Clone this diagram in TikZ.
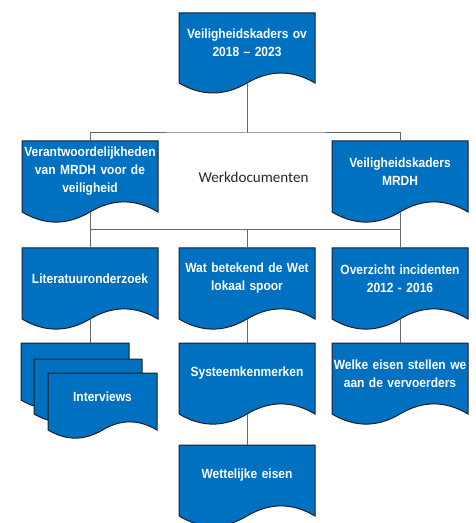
\documentclass[tikz,border=0pt]{standalone}
\usepackage{fontspec}
\newfontfamily\boxfont[FakeStretch=0.9,Ligatures=TeX]{Liberation Sans}
\newfontfamily\notefont{Carlito}
\usetikzlibrary{positioning}

\definecolor{docblue}{RGB}{0,112,192}
\definecolor{docedge}{RGB}{30,30,40}
\definecolor{connline}{RGB}{105,105,105}

\tikzset{
	docshape/.style={fill=docblue, draw=docedge, line width=0.75pt},
	docframe/.style={inner sep=0pt, outer sep=0pt},
	doctext/.style={text=white, align=center, inner sep=0pt, text width=118pt,
		font=\boxfont\bfseries\fontsize{10}{13.5}\selectfont},
	conn/.style={draw=connline, line width=0.75pt}
}

% document shape: name, left, top, width, height, text
\newcommand{\docbox}[6]{%
	\filldraw[docshape] (#2,#3) -- (#2+#4,#3) -- (#2+#4,#3+#5)
		.. controls (#2+#4*5/6,#3+#5*0.81) and (#2+#4*4/6,#3+#5*0.81) .. (#2+#4/2,#3+#5)
		.. controls (#2+#4*2/6,#3+#5*1.19) and (#2+#4/6,#3+#5*1.19) .. (#2,#3+#5) -- cycle;
	\node[docframe, minimum width=#4*0.75pt, minimum height=#5*0.75pt] (#1) at (#2+#4/2,#3+#5/2) {};
	\node[doctext] (#1-t) at ([yshift=-3.75pt]#1.center) {#6};
}

\begin{document}
\begin{tikzpicture}[x=0.75pt,y=0.75pt,yscale=-1,xscale=1]
	\useasboundingbox (0,0) rectangle (475,523);
	% top
	\docbox{kaders}{179}{13}{136}{70}{Veiligheidskaders ov\\2018 -- 2023}
	% second row
	\docbox{verant}{22}{141}{136}{71}{Verantwoordelijkheden\\van MRDH voor de\\veiligheid}
	\docbox{mrdh}{332}{141}{136}{71}{Veiligheidskaders\\MRDH}
	\node[inner sep=0pt, text=black!85, font=\notefont\fontsize{11.3}{13}\selectfont] (werk) at (253.5,177) {Werkdocumenten};
	% third row
	\docbox{lit}{22}{248}{136}{71}{Literatuuronderzoek}
	\docbox{wet}{179}{248}{136}{71}{Wat betekend de Wet\\lokaal spoor}
	\docbox{overz}{332}{248}{136}{71}{Overzicht incidenten\\2012 - 2016}
	% fourth row
	\docbox{int1}{21}{343}{108}{57}{}
	\docbox{int2}{34}{359}{108}{55}{}
	\docbox{int3}{48}{373}{109}{57}{Interviews}
	\docbox{sys}{179}{343}{136}{71}{Systeemkenmerken}
	\docbox{welke}{332}{343}{136}{71}{Welke eisen stellen we\\aan de vervoerders}
	% fifth row
	\docbox{wett}{179}{445}{136}{71}{Wettelijke eisen}

	% connectors
	\coordinate (bus1) at (kaders.south |- 0,133);
	\coordinate (bus2) at (kaders.south |- 0,230);
	\draw[conn] (kaders.south) -- (bus1);
	\draw[conn] (verant.north) |- (bus1) -| (mrdh.north);
	\draw[conn] (verant.south) |- (bus2) -| (mrdh.south);
	\draw[conn] (lit.north) |- (bus2);
	\draw[conn] (wet.north) -- (bus2);
	\draw[conn] (overz.north) |- (bus2);
	\draw[conn] (lit.south) -- (lit.south |- int1.north);
	\draw[conn] (wet.south) -- (sys.north);
	\draw[conn] (sys.south) -- (wett.north);
	\draw[conn] (overz.south) -- (welke.north);
\end{tikzpicture}
\end{document}
